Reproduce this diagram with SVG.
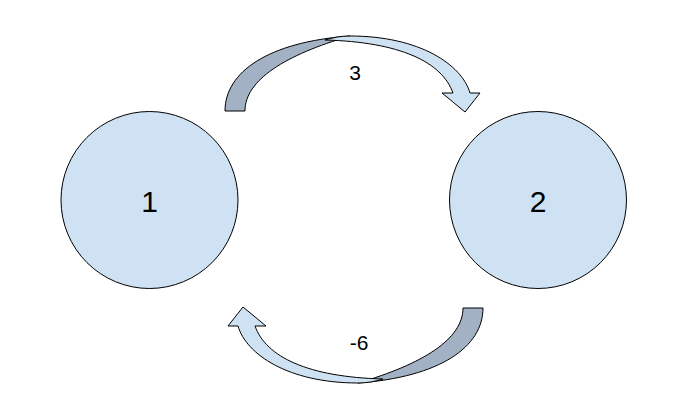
<svg xmlns="http://www.w3.org/2000/svg" width="677" height="415" viewBox="0 0 677 415">
<style>
.node{fill:#cfe2f3;stroke:#000;stroke-width:1}
.lbl{font-family:"Liberation Sans",Arial,sans-serif;fill:#000;text-anchor:middle}
.big{font-size:30px}
.sm{font-size:21px}
.back{fill:#a2b1c3;stroke:#000;stroke-width:1;stroke-linejoin:round}
.front{fill:#cfe2f3;stroke:#000;stroke-width:1;stroke-linejoin:miter}
</style>
<defs>
<g id="curved">
<path class="back" d="M225,111 C225,72 268,42 350,36 C285,55 245,80 245,111 Z"/>
<path class="front" d="M325,40 C333,37.5 341,36 350,36 C420,36 462,65 470,93 L480,93 L465,112 L442,93 L453,93 C442,62 400,42 325,40 Z"/>
</g>
</defs>
<rect width="677" height="415" fill="#fff"/>
<g id="connectors">
<g id="edge-1-2"><use href="#curved"/><text class="lbl sm" x="355" y="80">3</text></g>
<g id="edge-2-1"><use href="#curved" transform="rotate(180 354 209.5)"/><text class="lbl sm" x="359" y="350">-6</text></g>
</g>
<g id="node-1"><circle class="node" cx="149.5" cy="200" r="88.5"/><text class="lbl big" x="149.5" y="212">1</text></g>
<g id="node-2"><circle class="node" cx="538" cy="200" r="88.5"/><text class="lbl big" x="538" y="212">2</text></g>
</svg>
